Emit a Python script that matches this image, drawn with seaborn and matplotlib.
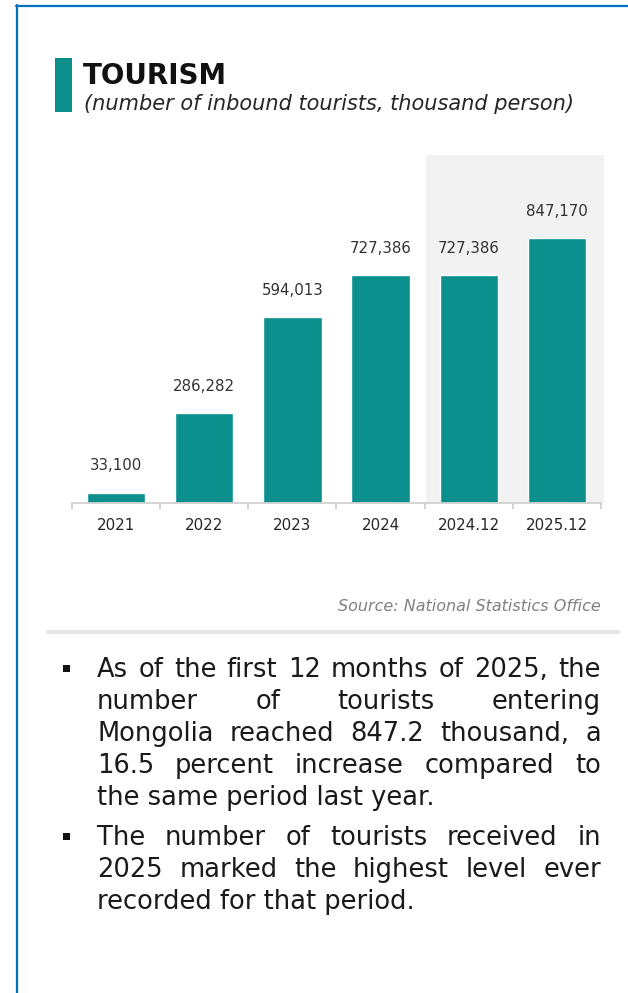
import numpy as np
import pandas as pd
import seaborn as sns
import matplotlib
matplotlib.use("Agg")
import matplotlib.pyplot as plt
from matplotlib.patches import Rectangle
from matplotlib.lines import Line2D

# ---- data -------------------------------------------------------------
periods = ["2021", "2022", "2023", "2024", "2024.12", "2025.12"]
tourists = [33100, 286282, 594013, 727386, 727386, 847170]
highlight_periods = ["2024.12", "2025.12"]

title = "TOURISM"
subtitle = "(number of inbound tourists, thousand person)"
source = "Source: National Statistics Office"
bullet_1 = [
    "As of the first 12 months of 2025, the",
    "number of tourists entering",
    "Mongolia reached 847.2 thousand, a",
    "16.5 percent increase compared to",
    "the same period last year.",
]
bullet_2 = [
    "The number of tourists received in",
    "2025 marked the highest level ever",
    "recorded for that period.",
]

# ---- style ------------------------------------------------------------
W, H = 628, 993
TEAL = "#0a8f8c"
BORDER = "#0070c0"
AXIS_GREY = "#d0d0d0"
BODY_FONT = 18.5
LABEL_FONT = 10.8

sns.set_theme(style="white")
plt.rcParams["font.family"] = ["DejaVu Sans"]

fig = plt.figure(figsize=(W / 100, H / 100), dpi=100)
fig.patch.set_facecolor("white")


def fx(x):
    return x / W


def fy(y):
    return 1 - y / H


# ---- bar chart --------------------------------------------------------
ax = fig.add_axes([fx(72), fy(503), (601 - 72) / W, (503 - 155) / H])
df = pd.DataFrame({"period": periods, "tourists": tourists})
sns.barplot(data=df, x="period", y="tourists", color=TEAL, saturation=1,
            width=0.66, ax=ax)

idx = [periods.index(p) for p in highlight_periods]
ax.axvspan(min(idx) - 0.48, max(idx) + 0.53, color="#f2f2f2", zorder=0,
           lw=0, clip_on=False)

ax.set_xlim(-0.5, len(periods) - 0.5)
ax.set_ylim(0, 1.1125e6)
for s in ["left", "top", "right"]:
    ax.spines[s].set_visible(False)
ax.spines["bottom"].set_color(AXIS_GREY)
ax.spines["bottom"].set_linewidth(1.3)
ax.set_yticks([])
ax.set_xlabel("")
ax.set_ylabel("")
ax.tick_params(axis="x", which="major", length=0, pad=11,
               labelsize=LABEL_FONT, labelcolor="#262626")
ax.set_xticks(np.arange(-0.5, len(periods)), minor=True)
ax.tick_params(axis="x", which="minor", length=4, width=1.3,
               color=AXIS_GREY, direction="out", bottom=True)

ax.bar_label(ax.containers[0], labels=[f"{v:,}" for v in tourists],
             padding=14, fontsize=LABEL_FONT, color="#333333")

# ---- header -----------------------------------------------------------
fig.add_artist(Rectangle((fx(55), fy(112)), (72 - 55) / W, (112 - 58) / H,
                         transform=fig.transFigure, color=TEAL, lw=0))
fig.text(fx(83), fy(84), title, fontsize=20, fontweight="bold",
         va="baseline", color="#111111")
fig.text(fx(84), fy(110), subtitle, fontsize=15, style="italic",
         va="baseline", color="#262626")

# ---- source and separator --------------------------------------------
fig.text(fx(601), fy(611), source, ha="right", va="baseline", fontsize=11.5,
         style="italic", color="#808080")
fig.add_artist(Line2D([fx(48), fx(618)], [fy(632), fy(632)], lw=3,
                      color="#e6e6e6", transform=fig.transFigure))

# ---- frame ------------------------------------------------------------
fig.add_artist(Line2D([fx(16), 1], [fy(5.5), fy(5.5)], lw=1.6,
                      color=BORDER, transform=fig.transFigure))
fig.add_artist(Line2D([fx(16.5), fx(16.5)], [fy(5), 0], lw=1.6,
                      color=BORDER, transform=fig.transFigure))

# ---- justified bullet text -------------------------------------------
renderer = fig.canvas.get_renderer()
TEXT_LEFT, TEXT_RIGHT = 97, 601
LINE_STEP = 32


def justified_paragraph(lines, baseline0):
    for i, line in enumerate(lines):
        y = baseline0 + i * LINE_STEP
        if i == len(lines) - 1:
            fig.text(fx(TEXT_LEFT), fy(y), line, fontsize=BODY_FONT,
                     va="baseline", color="#1a1a1a")
            continue
        words = line.split()
        texts = [fig.text(0, 0, w, fontsize=BODY_FONT, va="baseline",
                          color="#1a1a1a") for w in words]
        widths = [t.get_window_extent(renderer).width for t in texts]
        gap = (TEXT_RIGHT - TEXT_LEFT - sum(widths)) / max(len(words) - 1, 1)
        x = TEXT_LEFT
        for t, w in zip(texts, widths):
            t.set_position((fx(x), fy(y)))
            x += w + gap
    # square bullet marker
    fig.add_artist(Rectangle((fx(62.5), fy(baseline0 - 5.5)), 7 / W, 7 / H,
                             transform=fig.transFigure, color="#111111",
                             lw=0))


justified_paragraph(bullet_1, 677)
justified_paragraph(bullet_2, 845)

fig.savefig("out.png", dpi=100, facecolor="white")
